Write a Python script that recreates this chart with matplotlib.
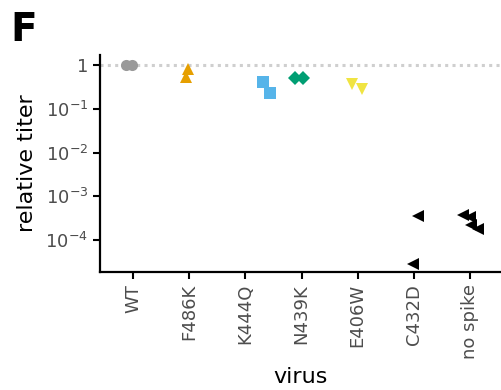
import matplotlib
matplotlib.use("Agg")
import matplotlib.pyplot as plt
import numpy as np

# Relative titers per virus (replicate measurements)
viruses = ["WT", "F486K", "K444Q", "N439K", "E406W", "C432D", "no spike"]
wt = [1.0, 1.0]
f486k = [0.81, 0.53]
k444q = [0.41, 0.23]
n439k = [0.50, 0.50]
e406w = [0.37, 0.28]
c432d = [3.5e-4, 2.9e-5]
no_spike = [3.7e-4, 3.4e-4, 2.2e-4, 1.8e-4]

series = [wt, f486k, k444q, n439k, e406w, c432d, no_spike]

# horizontal jitter applied to each replicate within its category
jitter = [[-0.13, -0.02], [-0.03, -0.05], [0.32, 0.44], [-0.12, 0.02],
          [-0.1, 0.07], [0.07, -0.02], [-0.12, 0.0, 0.02, 0.14]]
markers = ["o", "^", "s", "D", "v", "<", "<"]
colors = ["#999999", "#E69F00", "#56B4E9", "#009E73", "#F0E442", "#000000", "#000000"]
sizes = [8, 8, 8, 7, 8, 8, 8]

fig = plt.figure(figsize=(5.02, 3.90), dpi=100)
ax = fig.add_axes([100 / 502, (390 - 272) / 390, 402 / 502, (272 - 55) / 390])

ax.axhline(1.0, color="#cfcfcf", lw=2.2, ls=(0, (1, 1.4)), dash_capstyle="butt", zorder=1)

for i, (vals, off) in enumerate(zip(series, jitter)):
    x = i + np.array(off)
    ax.plot(x, vals, ls="none", marker=markers[i], color=colors[i],
            markersize=sizes[i], markeredgewidth=0, zorder=3)

ax.set_yscale("log")
ax.set_ylim(10 ** -4.73, 10 ** 0.23)
ax.set_xlim(-0.59, 6.57)
ax.set_yticks([1, 1e-1, 1e-2, 1e-3, 1e-4])
ax.set_yticklabels(["1", r"$10^{-1}$", r"$10^{-2}$", r"$10^{-3}$", r"$10^{-4}$"])
ax.yaxis.set_minor_locator(matplotlib.ticker.NullLocator())
ax.set_xticks(range(len(viruses)))
ax.set_xticklabels(viruses, rotation=90)

for s in ["top", "right"]:
    ax.spines[s].set_visible(False)
for s in ["left", "bottom"]:
    ax.spines[s].set_linewidth(1.6)
ax.tick_params(axis="both", which="major", length=5, width=1.5,
               labelsize=13, labelcolor="#4d4d4d", color="black")

ax.set_ylabel("relative titer", fontsize=16, labelpad=6)
ax.set_xlabel("virus", fontsize=16, labelpad=6)

fig.text(10 / 502, 1 - 41 / 390, "F", fontsize=28, fontweight="bold")

fig.savefig("out.png", dpi=100)
